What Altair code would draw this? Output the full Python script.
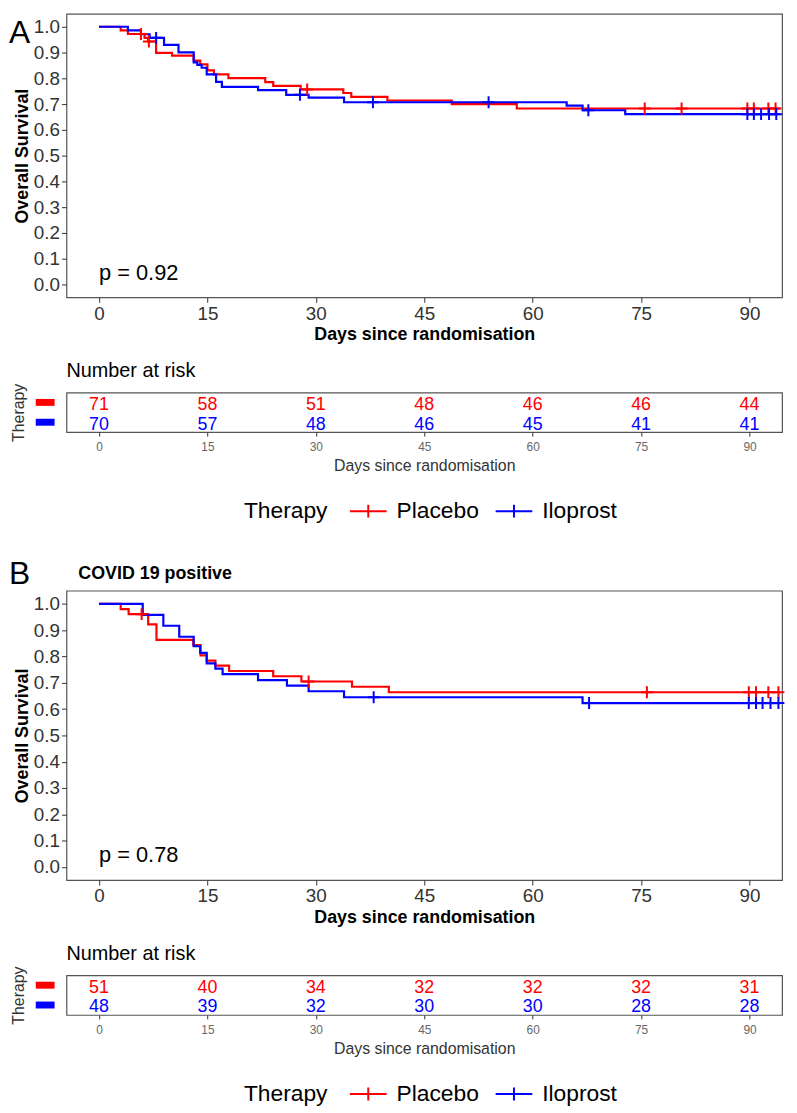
import altair as alt
import pandas as pd

FONT = "Liberation Sans"
ARMS = ["Placebo", "Iloprost"]
COLORS = ["#FF0000", "#0000FF"]
DAY_TICKS = [0, 15, 30, 45, 60, 75, 90]
SURV_TICKS = [0.0, 0.1, 0.2, 0.3, 0.4, 0.5, 0.6, 0.7, 0.8, 0.9, 1.0]
CROSS = "M-1,0H1M0,-1V1"

# ---------------- Panel A: all patients ----------------
a_pla_t = [0, 3, 4, 6.3, 6.8, 7.9, 10.1, 13.1, 14.0, 15.0, 15.9, 17.9, 23.0, 24.1, 27.9, 33.8, 34.9, 39.9, 48.8, 57.8, 94.2]
a_pla_s = [1.0, 0.986, 0.972, 0.957, 0.943, 0.899, 0.888, 0.869, 0.854, 0.831, 0.815, 0.801, 0.785, 0.771, 0.757, 0.743, 0.728, 0.714, 0.700, 0.683, 0.683]
a_pla_cens = [5.8, 6.9, 28.8, 75.5, 80.6, 89.7, 90.6, 92.6, 93.6]
a_ilo_t = [0, 4, 5.8, 7, 9, 11, 13.1, 13.6, 14.2, 14.9, 16.2, 17, 22, 25.9, 29, 33.9, 64.7, 66.9, 72.8, 94.2]
a_ilo_s = [1.0, 0.986, 0.971, 0.957, 0.930, 0.901, 0.862, 0.852, 0.841, 0.815, 0.786, 0.767, 0.754, 0.736, 0.725, 0.707, 0.694, 0.676, 0.661, 0.661]
a_ilo_cens = [7.9, 27.8, 37.9, 53.9, 67.7, 89.7, 90.6, 91.6, 92.7, 93.7]
a_risk_pla = [71, 58, 51, 48, 46, 46, 44]
a_risk_ilo = [70, 57, 48, 46, 45, 41, 41]
a_pval = "p = 0.92"

# ---------------- Panel B: COVID 19 positive ----------------
b_pla_t = [0, 3, 4.1, 6.8, 7.95, 13.05, 14.05, 14.9, 16.1, 18.0, 24.1, 28.0, 35.0, 40.1, 94.2]
b_pla_s = [1.0, 0.980, 0.961, 0.922, 0.863, 0.843, 0.804, 0.784, 0.765, 0.745, 0.725, 0.705, 0.685, 0.664, 0.664]
b_pla_cens = [5.9, 29.0, 75.8, 89.9, 90.9, 92.6, 94.0]
b_ilo_t = [0, 6.05, 8.9, 11.1, 13.1, 14.0, 14.9, 16.1, 17.1, 22.0, 26.0, 29.0, 33.9, 66.9, 94.2]
b_ilo_s = [1.0, 0.958, 0.917, 0.875, 0.839, 0.814, 0.774, 0.754, 0.733, 0.710, 0.689, 0.668, 0.645, 0.623, 0.623]
b_ilo_cens = [38.0, 67.8, 89.9, 90.9, 91.8, 92.9, 94.0]
b_risk_pla = [51, 40, 34, 32, 32, 32, 31]
b_risk_ilo = [48, 39, 32, 30, 30, 28, 28]
b_pval = "p = 0.78"
b_title = "COVID 19 positive"

W = 722
XDOM = [-4.5, 94.5]


def lookup(times, surv, t):
    val = surv[0]
    for ti, si in zip(times, surv):
        if ti <= t:
            val = si
    return val


def km_chart(pla_t, pla_s, pla_c, ilo_t, ilo_s, ilo_c, pval, letter, letter_y, height, title=None):
    line_rows, cens_rows = [], []
    for arm, t, s, c in [("Placebo", pla_t, pla_s, pla_c), ("Iloprost", ilo_t, ilo_s, ilo_c)]:
        for ti, si in zip(t, s):
            line_rows.append({"therapy": arm, "day": ti, "surv": si})
        for ci in c:
            cens_rows.append({"therapy": arm, "day": ci, "surv": lookup(t, s, ci)})
    line_df = pd.DataFrame(line_rows)
    cens_df = pd.DataFrame(cens_rows)

    x = alt.X("day:Q", scale=alt.Scale(domain=XDOM, nice=False, zero=False),
              axis=alt.Axis(values=DAY_TICKS, tickCount=len(DAY_TICKS),
                            title="Days since randomisation",
                            labelFontSize=19, labelColor="#333333", labelPadding=2,
                            labelOverlap=False, labelFlush=False,
                            tickSize=5, tickColor="#333333",
                            titleFontSize=18, titleFontWeight="bold", titleColor="black",
                            titlePadding=3, domain=False, grid=False))
    y = alt.Y("surv:Q", scale=alt.Scale(domain=[-0.05, 1.05], nice=False, zero=False),
              axis=alt.Axis(values=SURV_TICKS, tickCount=len(SURV_TICKS), format=".1f",
                            title="Overall Survival",
                            labelFontSize=19, labelColor="#333333", labelPadding=2,
                            labelOverlap=False, labelFlush=False,
                            tickSize=5, tickColor="#333333",
                            titleFontSize=18, titleFontWeight="bold", titleColor="black",
                            titlePadding=2, domain=False, grid=False))
    color = alt.Color("therapy:N", scale=alt.Scale(domain=ARMS, range=COLORS), legend=None)

    layers = []
    for arm in ARMS:
        layers.append(
            alt.Chart(line_df).transform_filter(alt.datum.therapy == arm)
            .mark_line(interpolate="step-after", strokeWidth=2.2)
            .encode(x=x, y=y, color=color)
        )
    for arm in ARMS:
        layers.append(
            alt.Chart(cens_df).transform_filter(alt.datum.therapy == arm)
            .mark_point(shape=CROSS, size=144, strokeWidth=2, filled=False, opacity=1)
            .encode(x=x, y=y, color=color)
        )
    layers.append(
        alt.Chart(pd.DataFrame({"day": [0], "surv": [0.045], "label": [pval]}))
        .mark_text(align="left", baseline="middle", fontSize=22, font=FONT, color="black")
        .encode(x="day:Q", y="surv:Q", text="label:N")
    )
    layers.append(
        alt.Chart(pd.DataFrame({"label": [letter]}))
        .mark_text(align="left", baseline="middle", fontSize=32, font=FONT, color="black")
        .encode(x=alt.value(-58), y=alt.value(letter_y), text="label:N")
    )
    if title:
        layers.append(
            alt.Chart(pd.DataFrame({"label": [title]}))
            .mark_text(align="left", baseline="middle", fontSize=18, fontWeight="bold",
                       font=FONT, color="black")
            .encode(x=alt.value(12), y=alt.value(-17), text="label:N")
        )
    return alt.layer(*layers).properties(width=W, height=height)


def risk_chart(n_pla, n_ilo):
    rows = []
    for arm, ns in [("Placebo", n_pla), ("Iloprost", n_ilo)]:
        for d, n in zip(DAY_TICKS, ns):
            rows.append({"therapy": arm, "day": d, "n": n})
    df = pd.DataFrame(rows)
    x = alt.X("day:Q", scale=alt.Scale(domain=XDOM, nice=False, zero=False),
              axis=alt.Axis(values=DAY_TICKS, tickCount=len(DAY_TICKS),
                            title="Days since randomisation",
                            labelFontSize=12, labelColor="#666666", labelPadding=6,
                            labelOverlap=False, labelFlush=False,
                            tickSize=4, tickColor="#333333",
                            titleFontSize=16, titleFontWeight="normal", titleColor="#333333",
                            titlePadding=5, domain=False, grid=False))
    y = alt.Y("therapy:N", scale=alt.Scale(type="point", domain=ARMS, padding=0.5),
              axis=alt.Axis(labels=False, ticks=False, domain=False, grid=False,
                            title="Therapy", titleFontSize=16, titleFontWeight="normal",
                            titleColor="#333333", titlePadding=40))
    arm_color = alt.condition(alt.datum.therapy == ARMS[0], alt.value(COLORS[0]), alt.value(COLORS[1]))
    text = alt.Chart(df).mark_text(fontSize=18, font=FONT, baseline="middle", dy=2.5).encode(
        x=x, y=y, text="n:Q", color=arm_color)
    bars = alt.Chart(pd.DataFrame({"therapy": ARMS})).mark_tick(
        orient="horizontal", size=19, thickness=7, opacity=1).encode(
        x=alt.value(-21.5), y=y, color=arm_color)
    legend_layer = alt.Chart(df).transform_filter("false").mark_line(strokeWidth=2).encode(
        x=x, y=y,
        stroke=alt.Stroke("therapy:N", scale=alt.Scale(domain=ARMS, range=COLORS),
                          legend=alt.Legend(
                              orient="none", legendX=179, legendY=108, direction="horizontal",
                              title="Therapy", titleOrient="left", titleFontSize=23,
                              titleFontWeight="normal", titleColor="black", titleFont=FONT,
                              titlePadding=29, titleBaseline="middle",
                              labelFontSize=23, labelFont=FONT, labelColor="black",
                              labelOffset=17, columnPadding=12, symbolOpacity=1,
                              symbolType="M-2,0H2M0,-0.7V0.7", symbolSize=342,
                              symbolStrokeWidth=2)))
    return alt.layer(text, bars, legend_layer).properties(
        width=W, height=40,
        title=alt.TitleParams("Number at risk", anchor="start", frame="group", fontSize=20,
                              fontWeight="normal", color="black", font=FONT, offset=2))


def panel(km, table):
    return (alt.vconcat(km, table, spacing=16)
            .resolve_scale(color="independent", stroke="independent")
            .resolve_legend(color="independent", stroke="independent"))


km_a = km_chart(a_pla_t, a_pla_s, a_pla_cens, a_ilo_t, a_ilo_s, a_ilo_cens, a_pval, "A", 19, 286)
km_b = km_chart(b_pla_t, b_pla_s, b_pla_cens, b_ilo_t, b_ilo_s, b_ilo_cens, b_pval, "B", -17, 292,
                title=b_title)
panel_a = panel(km_a, risk_chart(a_risk_pla, a_risk_ilo))
panel_b = panel(km_b, risk_chart(b_risk_pla, b_risk_ilo))

chart = (
    alt.vconcat(panel_a, panel_b, spacing=33)
    .resolve_scale(color="independent", stroke="independent")
    .resolve_legend(color="independent", stroke="independent")
    .properties(padding=0)
    .configure(font=FONT)
    .configure_view(stroke="#555555", strokeWidth=1.2)
)

chart.save("out.html", embed_options={"renderer": "svg", "actions": False})
